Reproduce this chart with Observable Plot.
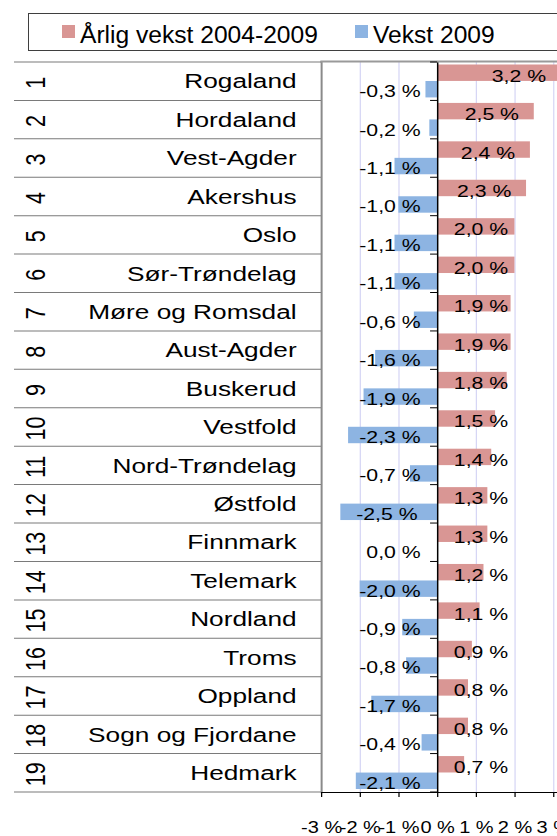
<!DOCTYPE html>
<html>
<head>
<meta charset="utf-8">
<script src="https://cdn.jsdelivr.net/npm/d3@7"></script>
<script src="https://cdn.jsdelivr.net/npm/@observablehq/plot@0.6"></script>
<style>
html,body{margin:0;padding:0;background:#fff;}
body{width:557px;height:836px;overflow:hidden;font-family:"Liberation Sans",Arial,sans-serif;}
#legend{position:relative;width:557px;height:55px;overflow:hidden;}
#legend .box{position:absolute;left:28px;top:13px;width:600px;height:38px;border:1px solid #3f3f3f;box-sizing:border-box;}
#legend .sw{position:absolute;top:25px;width:13px;height:13px;}
#legend .lab{position:absolute;top:23px;font-size:24.6px;line-height:24px;color:#000;white-space:nowrap;}
#chart{width:557px;overflow:hidden;}
</style>
</head>
<body>
<div id="legend"><div class="box"></div></div>
<div id="chart"></div>
<script>
// ---- data ----
const ranks = [1,2,3,4,5,6,7,8,9,10,11,12,13,14,15,16,17,18,19];
const names = ["Rogaland","Hordaland","Vest-Agder","Akershus","Oslo","Sør-Trøndelag","Møre og Romsdal","Aust-Agder","Buskerud","Vestfold","Nord-Trøndelag","Østfold","Finnmark","Telemark","Nordland","Troms","Oppland","Sogn og Fjordane","Hedmark"];
const avgGrowth = [3.2,2.5,2.4,2.3,2.0,2.0,1.9,1.9,1.8,1.5,1.4,1.3,1.3,1.2,1.1,0.9,0.8,0.8,0.7];
const growth2009 = [-0.3,-0.2,-1.1,-1.0,-1.1,-1.1,-0.6,-1.6,-1.9,-2.3,-0.7,-2.5,0.0,-2.0,-0.9,-0.8,-1.7,-0.4,-2.1];
const seriesNames = ["Årlig vekst 2004-2009","Vekst 2009"];
const seriesColors = ["#d99694","#8db4e2"];
const xTicks = [-3,-2,-1,0,1,2,3];

// ---- legend ----
const legend = document.getElementById("legend");
const swX = [62, 355], labX = [80, 373];
seriesNames.forEach((n, i) => {
  const sw = document.createElement("div");
  sw.className = "sw"; sw.style.left = swX[i] + "px"; sw.style.background = seriesColors[i];
  legend.appendChild(sw);
  const lb = document.createElement("div");
  lb.className = "lab"; lb.style.left = labX[i] + "px"; lb.textContent = n;
  legend.appendChild(lb);
});

// ---- chart ----
const S = 1.25; // horizontal stretch of the original picture
const W = 557 / S;
const ML = 321 / S;
const fmt = v => (v < 0 ? "-" : "") + Math.abs(v).toFixed(1).replace(".", ",") + " %";
const rows = names.map((name, i) => ({rank: ranks[i], name, avg: avgGrowth[i], g09: growth2009[i]}));

const chart = Plot.plot({
  width: W, height: 781,
  marginLeft: ML, marginRight: 0, marginTop: 7, marginBottom: 44,
  style: {fontFamily: "'Liberation Sans', Arial, sans-serif", color: "#000", background: "transparent", overflow: "visible"},
  x: {domain: [-3, 3.1]},
  y: {domain: names, padding: 0, round: false, axis: null},
  marks: [
    Plot.gridX(xTicks.filter(t => t !== 0 && t !== -3), {stroke: "#d6d6f5", strokeOpacity: 1, strokeWidth: 1}),
    Plot.barX(rows, {x: "avg", y: "name", fill: seriesColors[0], insetTop: 2.5, insetBottom: 19.5, clip: true}),
    Plot.barX(rows, {x: "g09", y: "name", fill: seriesColors[1], insetTop: 19, insetBottom: 3}),
    Plot.text(rows, {x: d => Math.max(1.12, d.avg - 1.1), y: "name", text: d => fmt(d.avg), dy: -5.5, fontSize: 17, fill: "#000"}),
    Plot.text(rows, {x: d => Math.min(-0.44, d.g09 + 1.98), y: "name", text: d => fmt(d.g09), textAnchor: "end", dy: 10, fontSize: 17, fill: "#000"}),
    Plot.text(rows, {y: "name", text: "name", frameAnchor: "left", textAnchor: "end", dx: -20, fontSize: 21, fill: "#000"}),
    Plot.text(rows, {y: "name", text: d => String(d.rank), frameAnchor: "left", textAnchor: "middle", dx: 29 - ML, dy: 1, rotate: -90, fontSize: 21.5, fill: "#000"}),
    Plot.ruleX([0], {stroke: "#000", strokeWidth: 1.2}),
    Plot.frame({anchor: "left", stroke: "#8a8a8a", strokeWidth: 1.6}),
    Plot.frame({anchor: "top", stroke: "#9a9a9a", strokeWidth: 2, dy: -1}),
    Plot.frame({anchor: "bottom", stroke: "#000", strokeWidth: 1}),
    Plot.axisX({ticks: xTicks, tickFormat: d => `${d} %`, tickSize: 5, tickPadding: 24, fontSize: 16, stroke: "#000", fill: "#000"})
  ]
});

// row separators of the category table and category ticks on the zero axis
const ysc = chart.scale("y");
const xsc = chart.scale("x");
const step = ysc.step || ysc.bandwidth || (ysc.range[1] - ysc.range[0]) / names.length;
const yStart = n => ysc.apply ? ysc.apply(n) : ysc.range[0] + names.indexOf(n) * step;
const starts = names.map(yStart);
const bounds = [...starts, starts[starts.length - 1] + (ysc.bandwidth || step)];
const x0 = xsc.apply ? xsc.apply(0) : ML + (0 - xsc.domain[0]) / (xsc.domain[1] - xsc.domain[0]) * (W - ML);
const svg = d3.select(chart);
svg.append("g").attr("stroke", "#7a7a7a").attr("stroke-width", 1)
  .selectAll("line").data(bounds).join("line")
  .attr("x1", 14 / S).attr("x2", ML).attr("y1", d => d).attr("y2", d => d);
svg.append("g").attr("stroke", "#000").attr("stroke-width", 1)
  .selectAll("line").data(bounds).join("line")
  .attr("x1", x0 - 7 / S).attr("x2", x0).attr("y1", d => d).attr("y2", d => d);

chart.style.display = "block";
chart.style.maxWidth = "none";
chart.style.transform = `scaleX(${S})`;
chart.style.transformOrigin = "0 0";
document.getElementById("chart").appendChild(chart);
</script>
</body>
</html>
